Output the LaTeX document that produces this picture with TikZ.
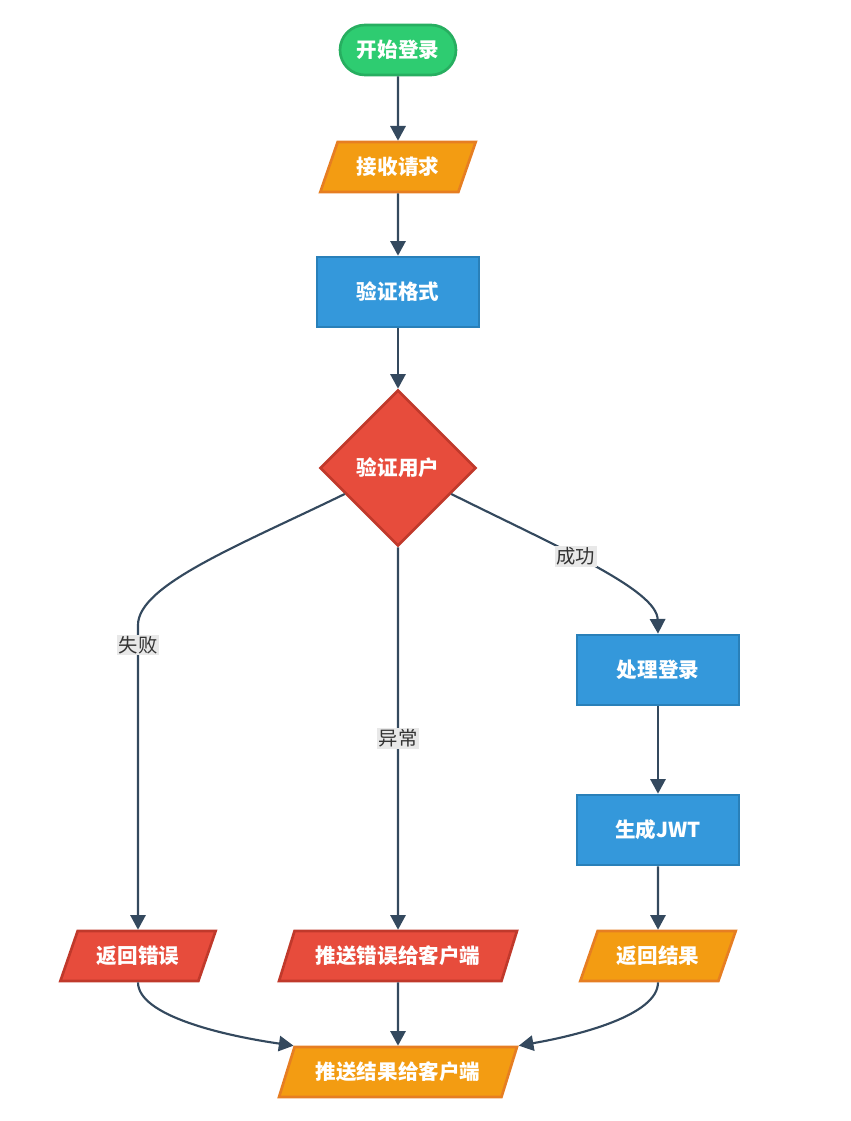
\documentclass[tikz,border=0pt]{standalone}
\usepackage{fontspec}
\setmainfont{Noto Sans CJK SC}
\usetikzlibrary{shapes.geometric,arrows.meta}
\definecolor{startfill}{HTML}{2ECC71}
\definecolor{startline}{HTML}{27AE60}
\definecolor{iofill}{HTML}{F39C12}
\definecolor{ioline}{HTML}{E67E22}
\definecolor{procfill}{HTML}{3498DB}
\definecolor{procline}{HTML}{2980B9}
\definecolor{errfill}{HTML}{E74C3C}
\definecolor{errline}{HTML}{C0392B}
\definecolor{flowline}{HTML}{34495E}
\definecolor{lblgray}{HTML}{E8E8E8}
\definecolor{lbltext}{HTML}{333333}

\begin{document}
\begin{tikzpicture}[
    x=0.75pt, y=-0.75pt,
    base/.style={draw, line width=2pt, text=white, align=center, inner sep=2pt,
                 font=\bfseries\fontsize{15.4pt}{18pt}\selectfont},
    startbox/.style={base, rectangle, rounded corners=18.75pt,
                     fill=startfill, draw=startline,
                     minimum width=87pt, minimum height=37.5pt},
    iobox/.style={base, trapezium, trapezium left angle=63.4,
                  trapezium right angle=116.6, trapezium stretches=true,
                  fill=iofill, draw=ioline,
                  minimum width=117pt, minimum height=37.5pt},
    errio/.style={iobox, fill=errfill, draw=errline},
    procbox/.style={base, rectangle, fill=procfill, draw=procline,
                    minimum width=121.5pt, minimum height=52.5pt},
    decide/.style={base, diamond, fill=errfill, draw=errline,
                   minimum width=117pt, minimum height=117pt, inner sep=0pt},
    lbl/.style={fill=lblgray, text=lbltext, inner sep=1pt,
                font=\fontsize{14.5pt}{17pt}\selectfont},
    arrow/.style={-{Triangle[length=11pt,width=11.5pt]}, line width=1.6pt, draw=flowline}
]
\useasboundingbox (0,0) rectangle (850,1121);

% main column
\node[startbox] (start) at (398,50)  {开始登录};
\node[iobox]    (recv)  at (398,167) {接收请求};
\node[procbox]  (fmt)   at (398,292) {验证格式};
\node[decide]   (user)  at (398,468) {验证用户};

% branches
\node[procbox]  (proc)  at (658,670) {处理登录};
\node[procbox]  (jwt)   at (658,830) {生成JWT};
\node[errio]    (rerr)  at (138,956) {返回错误};
\node[errio, minimum width=178.5pt] (perr) at (398,956) {推送错误给客户端};
\node[iobox]    (rok)   at (658,956) {返回结果};
\node[iobox, minimum width=178.5pt] (res) at (398,1072) {推送结果给客户端};

\draw[arrow] (start) -- (recv);
\draw[arrow] (recv)  -- (fmt);
\draw[arrow] (fmt)   -- (user);
\draw[arrow] (user.206) .. controls (240,545) and (138,585) .. (138,625)
    -- (rerr.north) node[lbl, pos=0.065] (lfail) {失败};
\draw[arrow] (user.south) -- (perr.north) node[lbl, pos=0.5] (lexc) {异常};
\draw[arrow] (user.334) .. controls (560,548) and (657,590) .. (proc.north)
    node[lbl, pos=0.42] (lok) {成功};
\draw[arrow] (proc) -- (jwt);
\draw[arrow] (jwt)  -- (rok);
\draw[arrow] (rerr.south) .. controls (138,1015) and (220,1035) .. (res.top left corner);
\draw[arrow] (perr) -- (res);
\draw[arrow] (rok.south) .. controls (658,1015) and (580,1035) .. (res.top right corner);
\end{tikzpicture}
\end{document}
